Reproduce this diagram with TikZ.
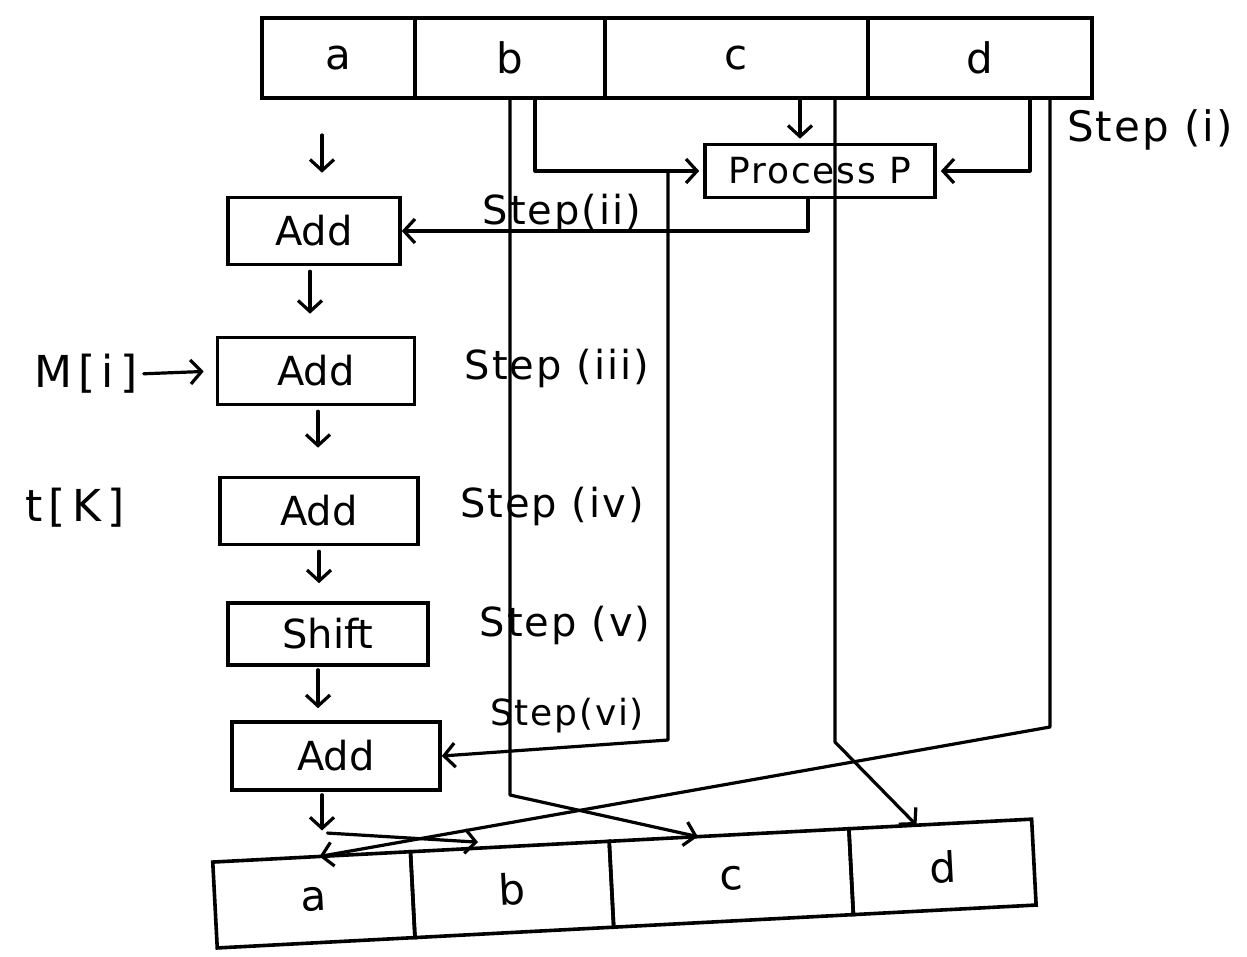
\documentclass[tikz,border=0pt]{standalone}
\usepackage{fontspec}
\setmainfont{DejaVu Sans}
\usetikzlibrary{arrows.meta,calc}
\begin{document}
\begin{tikzpicture}[x=1pt,y=-1pt,
  ink/.style={line width=3.2pt, line cap=round, line join=round},
  arr/.style={ink, -{Straight Barb[length=11pt,width=24pt,line width=3.2pt]}},
  cell/.style={draw, line width=3.6pt, inner sep=0pt, outer sep=0pt, anchor=west,
    font=\fontsize{42}{46}\selectfont},
  box/.style={draw, line width=3.6pt, inner sep=0pt, font=\fontsize{40}{44}\selectfont},
  steplabel/.style={font=\fontsize{40}{44}\selectfont\addfontfeature{LetterSpace=5}, inner sep=0pt},
  sidelabel/.style={font=\fontsize{44}{48}\selectfont\addfontfeature{LetterSpace=14}, inner sep=0pt},
]
\fill[white] (0,0) rectangle (1247,956);
\useasboundingbox (0,0) rectangle (1247,956);

% input register
\node[cell, minimum width=153pt, minimum height=80pt] (ta) at (262,58) {a};
\node[cell, minimum width=190pt, minimum height=80pt] (tb) at (ta.east) {b};
\node[cell, minimum width=263pt, minimum height=80pt] (tc) at (tb.east) {c};
\node[cell, minimum width=224pt, minimum height=80pt] (td) at (tc.east) {d};

% output register
\node[cell, rotate=3, minimum width=198pt, minimum height=86pt] (ba) at (215,905) {a};
\node[cell, rotate=3, minimum width=199pt, minimum height=86pt] (bb) at (ba.east) {b};
\node[cell, rotate=3, minimum width=240pt, minimum height=86pt] (bc) at (bb.east) {c};
\node[cell, rotate=3, minimum width=183pt, minimum height=86pt] (bd) at (bc.east) {d};

% processing steps
\node[box, minimum width=230pt, minimum height=53pt,
  font=\fontsize{36}{40}\selectfont\addfontfeature{LetterSpace=5}] (proc) at (820,171) {Process P};
\node[box, minimum width=172pt, minimum height=67pt] (add1) at (314,231) {Add};
\node[box, minimum width=197pt, minimum height=67pt] (add2) at (316,371) {Add};
\node[box, minimum width=198pt, minimum height=67pt] (add3) at (319,511) {Add};
\node[box, minimum width=200pt, minimum height=62pt] (shift) at (328,634) {Shift};
\node[box, minimum width=208pt, minimum height=68pt] (add4) at (336,756) {Add};

% side inputs
\node[sidelabel] (mi) at (86,374) {M[i]};
\node[sidelabel] (tk) at (75,508) {t[K]};

% step labels
\node[steplabel, font=\fontsize{42}{46}\selectfont\addfontfeature{LetterSpace=5}] (s1) at (1150,130) {Step (i)};
\node[steplabel] (s2) at (562,213) {Step(ii)};
\node[steplabel] (s3) at (557,368) {Step (iii)};
\node[steplabel] (s4) at (552,506) {Step (iv)};
\node[steplabel] (s5) at (565,625) {Step (v)};
\node[steplabel, font=\fontsize{36}{40}\selectfont\addfontfeature{LetterSpace=5}] (s6) at (567,716) {Step(vi)};

% routing columns and bend levels
\coordinate (xb1) at (510,0);
\coordinate (xb2) at (535,0);
\coordinate (xv) at (668,0);
\coordinate (xp) at (808,0);
\coordinate (xc1) at (800,0);
\coordinate (xc2) at (835,0);
\coordinate (xd1) at (1030,0);
\coordinate (xd2) at (1050,0);
\coordinate (yb) at (0,795);
\coordinate (yc) at (0,742);
\coordinate (yd) at (0,727);
\coordinate (yv) at (0,740);
\coordinate (xa) at (322,0);

% landing points on the output register
\coordinate (aT) at ($(ba.north west)!0.54!(ba.north east)$);
\coordinate (cT) at ($(bc.north west)!0.37!(bc.north east)$);
\coordinate (dT) at ($(bd.north west)!0.37!(bd.north east)$);
\coordinate (aS) at ([yshift=23pt]$(ba.north west)!0.58!(ba.north east)$);
\coordinate (bS) at ([yshift=6pt]$(bb.north west)!0.34!(bb.north east)$);

% main column
\draw[arr, shorten <=37pt, shorten >=23pt] (ta.south -| xa) -- (add1.north -| xa);
\draw[arr, shorten <=5pt, shorten >=22pt] ([xshift=-4pt]add1.south) -- ([xshift=-4pt]add1.south |- add2.north);
\draw[arr, shorten <=5pt, shorten >=28pt] ([xshift=2pt]add2.south) -- ([xshift=2pt]add2.south |- add3.north);
\draw[arr, shorten <=5pt, shorten >=18pt] (add3.south) -- (add3.south |- shift.north);
\draw[arr, shorten <=3pt, shorten >=12pt] ([xshift=-10pt]shift.south) -- ([xshift=-10pt]shift.south |- add4.north);
\draw[arr, shorten <=3pt, shorten >=26pt] (add4.south -| xa) -- (aT -| xa);
\draw[arr, shorten <=6pt, shorten >=12pt] (mi.east) -- (add2.west);

% process P inputs and output
\draw[arr, shorten >=4pt] (tb.south -| xb2) |- (proc.west);
\draw[arr, shorten >=4pt] (tc.south -| xc1) -- (proc.north -| xc1);
\draw[arr, shorten >=4pt] (td.south -| xd1) |- (proc.east);
\draw[arr] (proc.south -| xp) |- (add1.east);

% branch of b into the last adder
\draw[arr] (proc.west -| xv) -- (yv -| xv) -- (add4.east);

% word rotation into the output register
\draw[arr] (tb.south -| xb1) -- (yb -| xb1) -- (cT);
\draw[arr] (tc.south -| xc2) -- (yc -| xc2) -- (dT);
\draw[arr] (td.south -| xd2) -- (yd -| xd2) -- (aT);
\draw[arr] (aS) -- (bS);
\end{tikzpicture}
\end{document}
